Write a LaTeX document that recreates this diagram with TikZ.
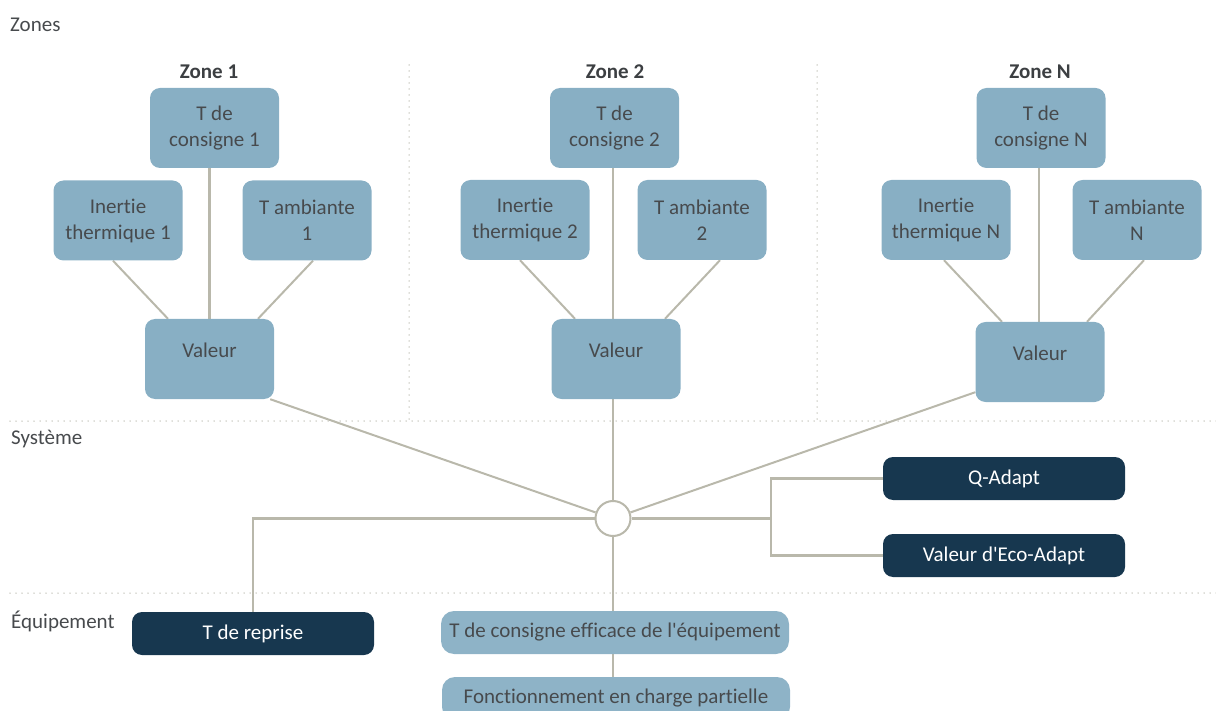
\documentclass[tikz,border=0pt]{standalone}
\usepackage{fontspec}
\setmainfont{Carlito}[Ligatures={CommonOff,TeXOff}]
\pgfdeclarelayer{bg}
\pgfsetlayers{bg,main}
\definecolor{lblue}{HTML}{88AFC4}
\definecolor{dblue}{HTML}{17374F}
\definecolor{lnc}{HTML}{B9B8AB}
\definecolor{dotc}{HTML}{BDBDB3}
\definecolor{txt}{HTML}{474A4D}
\tikzset{
  fs/.style={font=\fontsize{21}{26}\selectfont},
  lbox/.style={fs, fill=lblue, rounded corners=10pt, minimum width=129pt, minimum height=80pt, text=txt, align=center, inner sep=0pt},
  valbox/.style={lbox, text height=14pt, text depth=16pt},
  dbox/.style={fs, fill=dblue, rounded corners=10pt, minimum width=242pt, minimum height=43pt, text=white, inner sep=0pt},
  ebox/.style={fs, fill=lblue!95!white, rounded corners=13pt, minimum width=348pt, minimum height=43pt, text=txt, inner sep=0pt},
  conn/.style={draw=lnc, line width=2.6pt},
  diag/.style={draw=lnc, line width=2pt},
  sep/.style={draw=dotc, line width=1.5pt, line cap=round, dash pattern=on 0pt off 6pt},
  seclbl/.style={fs, text=txt, anchor=base west, inner sep=0pt},
  zlbl/.style={font=\fontsize{21}{26}\selectfont\bfseries, text=txt!85!black, anchor=base, inner sep=0pt},
}
\begin{document}
\begin{tikzpicture}[x=1pt,y=-1pt]
\clip (0,0) rectangle (1216,711);

% separators
\coordinate (s1a) at (10,421); \coordinate (s1b) at (1216,421);
\coordinate (s2a) at (10,593); \coordinate (s2b) at (1216,593);
\coordinate (v1a) at (409,65); \coordinate (v1b) at (409,421);
\coordinate (v2a) at (817,65); \coordinate (v2b) at (817,421);
\draw[sep] (s1a) -- (s1b);
\draw[sep] (s2a) -- (s2b);
\draw[sep] (v1a) -- (v1b);
\draw[sep] (v2a) -- (v2b);

% section labels
\node[seclbl] (lz) at (10,32) {Zones};
\node[seclbl] (ls) at (11,444) {Système};
\node[seclbl] (le) at (11,628) {Équipement};

% zone titles
\node[zlbl] (z1) at (209,79) {Zone 1};
\node[zlbl] (z2) at (615,79) {Zone 2};
\node[zlbl] (zn) at (1040,79) {Zone N};

% zone 1
\node[lbox] (c1) at (214.5,128) {T de\\consigne 1};
\node[lbox] (i1) at (118,220.5) {Inertie\\thermique 1};
\node[lbox] (a1) at (307,220.5) {T ambiante\\1};
\node[valbox] (v1) at (209.5,359) {Valeur};

% zone 2
\node[lbox] (c2) at (614.5,128) {T de\\consigne 2};
\node[lbox] (i2) at (525,220) {Inertie\\thermique 2};
\node[lbox] (a2) at (702,220) {T ambiante\\2};
\node[valbox] (v2) at (616,359) {Valeur};

% zone N
\node[lbox] (cn) at (1041,128) {T de\\consigne N};
\node[lbox] (in) at (946,220) {Inertie\\thermique N};
\node[lbox] (an) at (1137,220) {T ambiante\\N};
\node[valbox] (vn) at (1040,362) {Valeur};

% system
\node[circle, draw=lnc, line width=2pt, fill=white, minimum size=35pt, inner sep=0pt] (hub) at (613,518.5) {};
\node[dbox] (qa) at (1004,478.5) {Q-Adapt};
\node[dbox] (eco) at (1004,555.5) {Valeur d'Eco-Adapt};
\coordinate (br) at (771,518.5);

% equipment
\node[dbox] (tr) at (253,633.5) {T de reprise};
\node[ebox] (eq) at (615,632.5) {T de consigne efficace de l'équipement};
\node[ebox] (fc) at (616,698.5) {Fonctionnement en charge partielle};

\begin{pgfonlayer}{bg}
% zone 1
\draw[conn] (v1.north) -- (v1.north |- c1.south);
\draw[diag] ([xshift=-5pt]i1.south) -- ([xshift=-41.5pt]v1.north);
\draw[diag] ([xshift=6pt]a1.south) -- ([xshift=48.5pt]v1.north);
% zone 2
\draw[conn] (v2.north -| hub) -- (c2.south -| hub);
\draw[diag] ([xshift=-5pt]i2.south) -- ([xshift=-41pt]v2.north);
\draw[diag] ([xshift=18pt]a2.south) -- ([xshift=49pt]v2.north);
% zone N
\draw[conn] ([xshift=-1pt]vn.north) -- ([xshift=-1pt]vn.north |- cn.south);
\draw[diag] ([xshift=-2pt]in.south) -- ([xshift=-38pt]vn.north);
\draw[diag] ([xshift=7pt]an.south) -- ([xshift=47pt]vn.north);
% to hub
\draw[diag] ([xshift=-4pt]v1.south east) -- (hub);
\draw[conn] (v2.south -| hub) -- (hub);
\draw[diag] ([yshift=10pt]vn.south west) -- (hub);
% system
\draw[conn] (hub) -| (tr);
\draw[conn] (hub) -- (br);
\draw[conn] (qa.west) -| (br) |- (eco.west);
\draw[conn] (hub) -- (hub |- eq.north);
\draw[conn] (eq.south -| hub) -- (hub |- fc.north);
\end{pgfonlayer}
\end{tikzpicture}
\end{document}
